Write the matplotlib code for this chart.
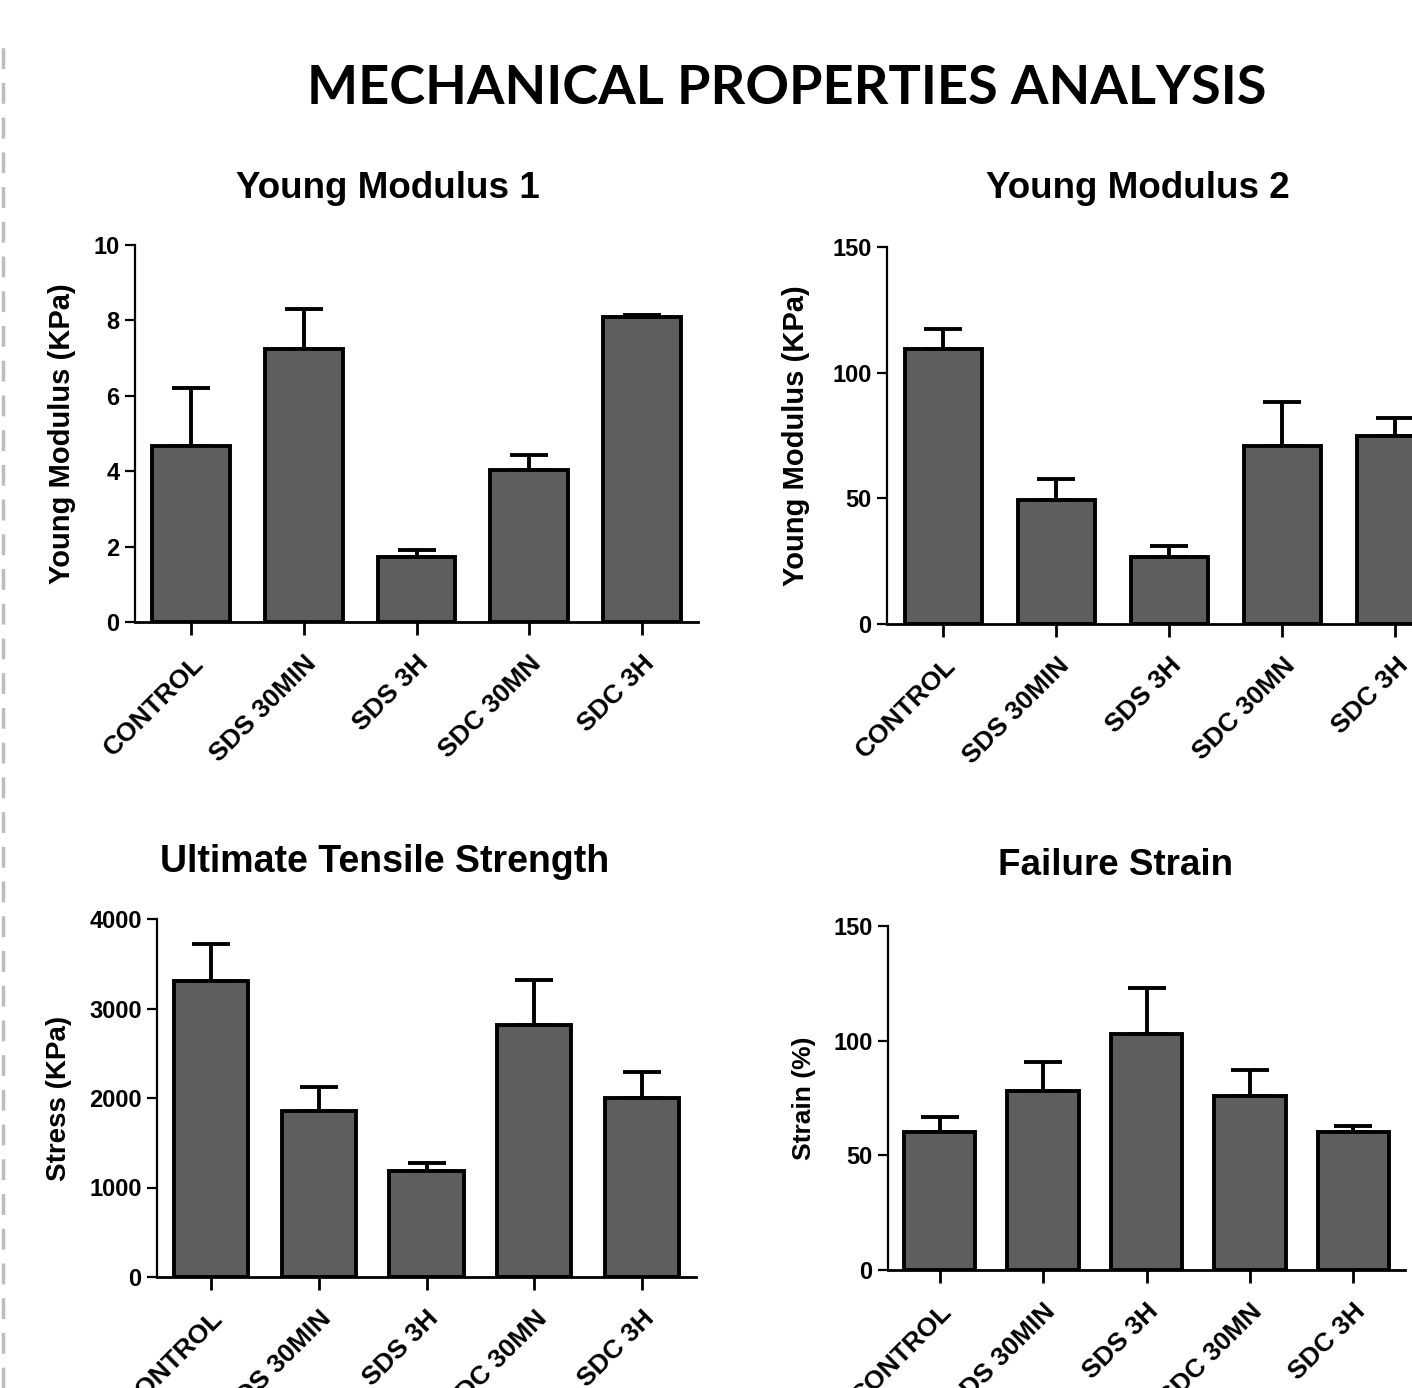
import matplotlib
matplotlib.use("Agg")
import matplotlib.pyplot as plt
from matplotlib.lines import Line2D
import numpy as np

W, H = 1412, 1388

groups = ["CONTROL", "SDS 30MIN", "SDS 3H", "SDC 30MN", "SDC 3H"]

ym1_mean = [4.68, 7.25, 1.73, 4.02, 8.08]
ym1_err = [1.53, 1.05, 0.19, 0.40, 0.06]

ym2_mean = [109.5, 49.5, 26.5, 71.0, 75.0]
ym2_err = [8.0, 8.0, 4.5, 17.5, 7.0]

uts_mean = [3310, 1860, 1180, 2820, 2000]
uts_err = [410, 260, 90, 500, 290]

fs_mean = [60.0, 78.0, 103.0, 76.0, 60.0]
fs_err = [6.5, 12.5, 20.0, 11.0, 3.0]

fig = plt.figure(figsize=(W / 100, H / 100), dpi=100)
fig.patch.set_facecolor("white")

FONT = "Liberation Sans"


def px_axes(l, r, t, b):
    return fig.add_axes([l / W, 1 - b / H, (r - l) / W, (b - t) / H])


def panel(box, means, errs, ylim, yticks, ylabel, ylabel_x, ylabel_size, title, title_xy, title_size):
    ax = px_axes(*box)
    x = np.arange(len(groups))
    ax.bar(x, means, width=0.69, color="#5e5e5e", edgecolor="black", linewidth=2.8, zorder=3)
    ax.errorbar(x, means, yerr=[np.zeros(len(means)), errs], fmt="none", ecolor="black",
                elinewidth=2.8, capsize=14, capthick=2.8, zorder=2)
    ax.set_xlim(-0.5, 4.5)
    ax.set_ylim(*ylim)
    ax.set_yticks(yticks)
    ax.set_xticks(x)
    ax.set_xticklabels(groups, rotation=45, ha="right", rotation_mode="anchor",
                       fontsize=19, fontweight="bold", family=FONT)
    for lab in ax.get_yticklabels():
        lab.set_fontsize(17)
        lab.set_fontweight("bold")
        lab.set_family(FONT)
    ax.tick_params(axis="x", length=9, width=2, pad=12)
    ax.tick_params(axis="y", length=7, width=1.6, pad=4)
    for s in ["top", "right"]:
        ax.spines[s].set_visible(False)
    ax.spines["left"].set_linewidth(1.6)
    ax.spines["bottom"].set_linewidth(2.0)
    ax.set_facecolor("none")
    ax.set_ylabel(ylabel, fontsize=ylabel_size, fontweight="bold", family=FONT)
    ax.yaxis.set_label_coords(ylabel_x / W, 1 - (box[2] + box[3]) / 2 / H, transform=fig.transFigure)
    fig.text(title_xy[0] / W, 1 - title_xy[1] / H, title, ha="center", va="center",
             fontsize=title_size, fontweight="bold", family=FONT)
    return ax


panel((135, 698, 245, 622), ym1_mean, ym1_err, (0, 10), [0, 2, 4, 6, 8, 10],
      "Young Modulus (KPa)", 76, 21, "Young Modulus 1", (388, 188), 26.5)
panel((887, 1452, 247, 624), ym2_mean, ym2_err, (0, 150), [0, 50, 100, 150],
      "Young Modulus (KPa)", 810, 21, "Young Modulus 2", (1138, 188), 26.5)
panel((157, 696, 919, 1277), uts_mean, uts_err, (0, 4000), [0, 1000, 2000, 3000, 4000],
      "Stress (KPa)", 72, 20, "Ultimate Tensile Strength", (385, 862), 27)
panel((888, 1405, 926, 1270), fs_mean, fs_err, (0, 150), [0, 50, 100, 150],
      "Strain (%)", 816, 19, "Failure Strain", (1116, 866), 26.5)

fig.text(787 / W, 1 - 89 / H, "MECHANICAL PROPERTIES ANALYSIS", ha="center", va="center",
         fontsize=39, fontweight="bold", family="Lato")

fig.add_artist(Line2D([3 / W, 3 / W], [0, 1 - 45 / H], transform=fig.transFigure,
                      color="#bdbdbd", linewidth=2.5, linestyle=(0, (6, 4))))

fig.savefig("out.png", dpi=100)
